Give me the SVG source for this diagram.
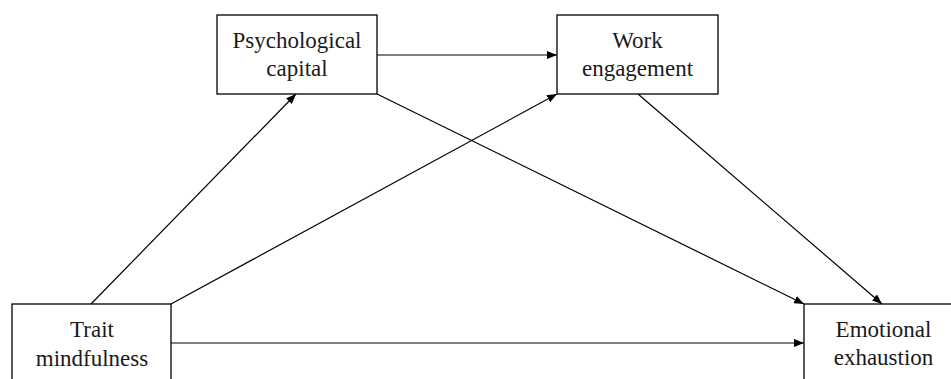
<svg xmlns="http://www.w3.org/2000/svg" width="951" height="379" viewBox="0 0 951 379">
<style>
.box{fill:#fff;stroke:#000;stroke-width:1.3}
.t{font-family:'Liberation Serif', 'Times New Roman', Times, serif;font-size:23px;fill:#1a1a1a;text-anchor:middle}
.c{stroke:#000;stroke-width:1.2;fill:none;marker-end:url(#a)}
</style>
<defs>
<marker id="a" viewBox="0 0 10 8" refX="10" refY="4" markerWidth="10" markerHeight="8" markerUnits="userSpaceOnUse" orient="auto">
<path d="M0,0 L10,4 L0,8 Z" fill="#000"/>
</marker>
</defs>
<rect width="951" height="379" fill="#fff"/>
<g id="connectors">
<line class="c" x1="377" y1="55" x2="557" y2="55"/>
<line class="c" x1="91" y1="304" x2="296" y2="94"/>
<line class="c" x1="171" y1="304" x2="557" y2="94"/>
<line class="c" x1="377" y1="94" x2="804" y2="304"/>
<line class="c" x1="638" y1="94" x2="882" y2="304"/>
<line class="c" x1="171" y1="343" x2="804" y2="343"/>
</g>
<g id="psychological-capital">
<rect class="box" x="217" y="15" width="160" height="79"/>
<text class="t" font-family="Liberation Serif" x="297" y="48">Psychological</text>
<text class="t" font-family="Liberation Serif" x="297" y="76">capital</text>
</g>
<g id="work-engagement">
<rect class="box" x="557" y="15" width="161" height="79"/>
<text class="t" font-family="Liberation Serif" x="637.5" y="48">Work</text>
<text class="t" font-family="Liberation Serif" x="637.5" y="76">engagement</text>
</g>
<g id="trait-mindfulness">
<rect class="box" x="12" y="304" width="159" height="90"/>
<text class="t" font-family="Liberation Serif" x="92" y="337">Trait</text>
<text class="t" font-family="Liberation Serif" x="92" y="366">mindfulness</text>
</g>
<g id="emotional-exhaustion">
<rect class="box" x="804" y="304" width="160" height="90"/>
<text class="t" font-family="Liberation Serif" x="883.5" y="337">Emotional</text>
<text class="t" font-family="Liberation Serif" x="883.5" y="365">exhaustion</text>
</g>
</svg>
